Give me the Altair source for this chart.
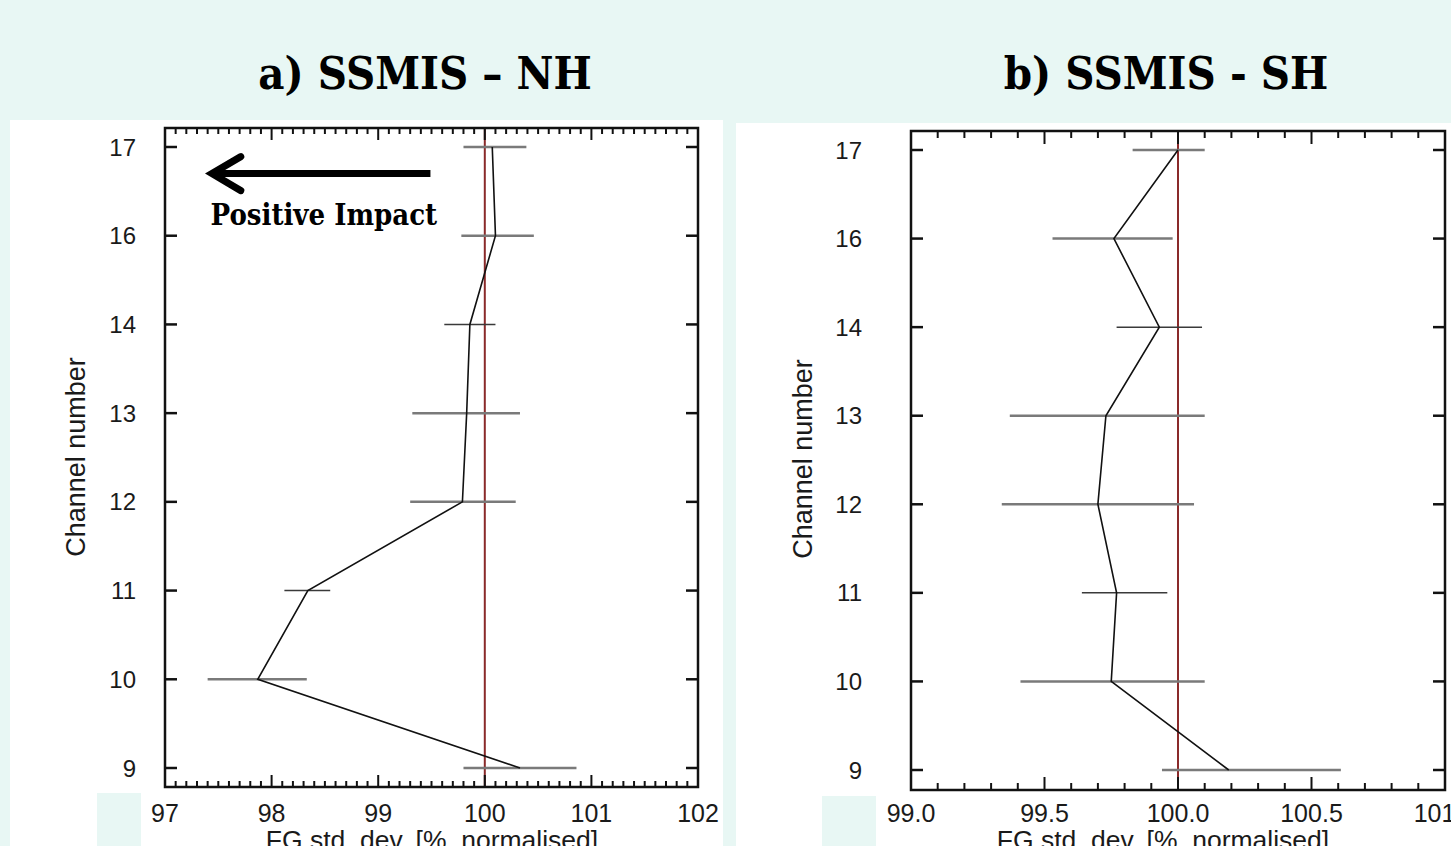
import altair as alt
import pandas as pd

# ---------------- data ----------------
channels = [9, 10, 11, 12, 13, 14, 16, 17]

nh_value = [100.33, 97.87, 98.34, 99.79, 99.83, 99.86, 100.10, 100.07]
nh_lo = [99.80, 97.40, 98.12, 99.30, 99.32, 99.62, 99.78, 99.80]
nh_hi = [100.86, 98.33, 98.55, 100.29, 100.33, 100.10, 100.46, 100.39]

sh_value = [100.19, 99.75, 99.77, 99.70, 99.73, 99.93, 99.76, 100.00]
sh_lo = [99.94, 99.41, 99.64, 99.34, 99.37, 99.77, 99.53, 99.83]
sh_hi = [100.61, 100.10, 99.96, 100.06, 100.10, 100.09, 99.98, 100.10]

titles = ["a) SSMIS \u2013 NH", "b) SSMIS - SH"]
x_title = "FG std. dev. [%, normalised]"
y_title = "Channel number"

nh_major = [97, 98, 99, 100, 101, 102]
nh_minor = [round(97 + i * 0.1, 1) for i in range(51) if i % 10]
sh_major = [99.0, 99.5, 100.0, 100.5, 101.0]
sh_minor = [round(99 + i * 0.1, 1) for i in range(21) if i % 5]

reference = [100.0]

arrow_x = [97.48, 99.49]
arrow_tip = [97.44]
arrow_y = [6.70]
note_text = ["Positive Impact"]
note_x = [98.49]
note_y = [6.22]

# ---------------- styling / layout ----------------
MINT = "#e8f7f4"
SANS = "Liberation Sans"
SERIF = "'DejaVu Serif Condensed', 'DejaVu Serif', 'Liberation Serif', serif"
TXT = "#1a1a1a"
one = pd.DataFrame({"a": [0]})

# panel geometry (pixels on the page)
LEFT = dict(x0=165, x1=698, top=128, bottom=787, y9=768, y17=147,
            white=(10, 723, 120), patch=(97, 141, 793), ylab_x=136, ytitle=(77, 457),
            xtitle_x=432, title_x=425)
RIGHT = dict(x0=911, x1=1445, top=131, bottom=790, y9=770, y17=150,
             white=(736, 1451, 123), patch=(822, 876, 796), ylab_x=862, ytitle=(804, 459),
             xtitle_x=1163, title_x=1166)


def panel(g, values, lo, hi, x_dom, major, minor, major_len, minor_len, fmt, title, annotate):
    df = pd.DataFrame({"channel": channels, "idx": list(range(len(channels))),
                       "value": values, "lo": lo, "hi": hi})
    xs = alt.Scale(domain=x_dom, range=[g["x0"], g["x1"]], nice=False, zero=False)
    ys = alt.Scale(domain=[0, len(channels) - 1], range=[g["y9"], g["y17"]], nice=False, zero=False)

    def X(f):
        return alt.X(f, type="quantitative", scale=xs, axis=None)

    def Y(f):
        return alt.Y(f, type="quantitative", scale=ys, axis=None)

    wx0, wx1, wy0 = g["white"]
    white = alt.Chart(one).mark_rect(fill="white").encode(
        x=alt.value(wx0), x2=alt.value(wx1), y=alt.value(wy0), y2=alt.value(900))
    px0, px1, py0 = g["patch"]
    patch = alt.Chart(one).mark_rect(fill=MINT).encode(
        x=alt.value(px0), x2=alt.value(px1), y=alt.value(py0), y2=alt.value(900))

    ref = alt.Chart(pd.DataFrame({"r": reference})).mark_rule(
        color="#8a2a2a", strokeWidth=2).encode(
        x=X("r"), y=alt.value(g["top"]), y2=alt.value(g["bottom"]))

    bars_thick = alt.Chart(df).transform_filter(
        "datum.channel != 11 && datum.channel != 14").mark_rule(
        color="#7a7a7a", strokeWidth=2.5).encode(x=X("lo"), x2="hi:Q", y=Y("idx"))
    bars_thin = alt.Chart(df).transform_filter(
        "datum.channel == 11 || datum.channel == 14").mark_rule(
        color="#3a3a3a", strokeWidth=1.5).encode(x=X("lo"), x2="hi:Q", y=Y("idx"))
    line = alt.Chart(df).mark_line(color="#111111", strokeWidth=1.6).encode(
        x=X("value"), y=Y("idx"), order=alt.Order("idx:Q"))

    ticks = []
    for vals, ln in ((major, major_len), (minor, minor_len)):
        tdf = pd.DataFrame({"t": vals})
        ticks.append(alt.Chart(tdf).mark_rule(color="#111111", strokeWidth=2).encode(
            x=X("t"), y=alt.value(g["bottom"] - ln), y2=alt.value(g["bottom"])))
        ticks.append(alt.Chart(tdf).mark_rule(color="#111111", strokeWidth=2).encode(
            x=X("t"), y=alt.value(g["top"]), y2=alt.value(g["top"] + ln)))
    ydf = pd.DataFrame({"i": list(range(len(channels)))})
    ticks.append(alt.Chart(ydf).mark_rule(color="#111111", strokeWidth=2.5).encode(
        y=Y("i"), x=alt.value(g["x0"]), x2=alt.value(g["x0"] + 12)))
    ticks.append(alt.Chart(ydf).mark_rule(color="#111111", strokeWidth=2.5).encode(
        y=Y("i"), x=alt.value(g["x1"] - 12), x2=alt.value(g["x1"])))

    frame = alt.Chart(one).mark_rect(fillOpacity=0, stroke="#111111", strokeWidth=2.5).encode(
        x=alt.value(g["x0"]), x2=alt.value(g["x1"]),
        y=alt.value(g["top"]), y2=alt.value(g["bottom"]))

    xlabels = alt.Chart(pd.DataFrame({"t": major})).mark_text(
        font=SANS, fontSize=25, color=TXT, align="center", baseline="alphabetic").encode(
        x=X("t"), y=alt.value(822), text=alt.Text("t:Q", format=fmt))
    ylabels = alt.Chart(df).mark_text(
        font=SANS, fontSize=24, color=TXT, align="right", baseline="alphabetic", dy=8.6).encode(
        y=Y("idx"), x=alt.value(g["ylab_x"]), text=alt.Text("channel:Q", format="d"))
    xtitle = alt.Chart(one).mark_text(
        font=SANS, fontSize=26.5, color=TXT, align="center", baseline="alphabetic").encode(
        x=alt.value(g["xtitle_x"]), y=alt.value(849), text=alt.value(x_title))
    ytitle = alt.Chart(one).mark_text(
        font=SANS, fontSize=27, color=TXT, align="center", baseline="middle", angle=270).encode(
        x=alt.value(g["ytitle"][0]), y=alt.value(g["ytitle"][1]), text=alt.value(y_title))
    title_mark = alt.Chart(one).mark_text(
        font=SERIF, fontSize=45, fontWeight="bold", color="#000000",
        align="center", baseline="alphabetic").encode(
        x=alt.value(g["title_x"]), y=alt.value(89), text=alt.value(title))

    layers = ([white, patch, ref, bars_thick, bars_thin, line] + ticks +
              [frame, xlabels, ylabels, xtitle, ytitle, title_mark])

    if annotate:
        shaft = alt.Chart(pd.DataFrame({"x1": [arrow_x[0]], "x2": [arrow_x[1]], "y": arrow_y})).mark_rule(
            color="#000000", strokeWidth=7).encode(x=X("x1"), x2="x2:Q", y=Y("y"))
        head = alt.Chart(pd.DataFrame({"x": arrow_tip, "y": arrow_y})).mark_point(
            shape="M 1.7 -1 L 0 0 L 1.7 1", size=1156, filled=False, opacity=1,
            stroke="#000000", strokeWidth=7, strokeCap="round", strokeJoin="miter").encode(
            x=X("x"), y=Y("y"))
        note = alt.Chart(pd.DataFrame({"x": note_x, "y": note_y, "t": note_text})).mark_text(
            font=SERIF, fontSize=29, fontWeight="bold", color="#000000",
            align="center", baseline="middle").encode(x=X("x"), y=Y("y"), text="t:N")
        layers += [shaft, head, note]
    return layers


layers = (panel(LEFT, nh_value, nh_lo, nh_hi, [97, 102], nh_major, nh_minor, 12, 6, "d",
                titles[0], True) +
          panel(RIGHT, sh_value, sh_lo, sh_hi, [99, 101], sh_major, sh_minor, 13, 7, ".1f",
                titles[1], False))

chart = alt.layer(*layers).resolve_scale(x="independent", y="independent").properties(
    width=1451, height=846, padding=0,
    autosize=alt.AutoSizeParams(type="none", contains="padding"),
).configure(background=MINT).configure_view(stroke="transparent")

chart.save("out.html", embed_options={"renderer": "svg", "actions": False})
